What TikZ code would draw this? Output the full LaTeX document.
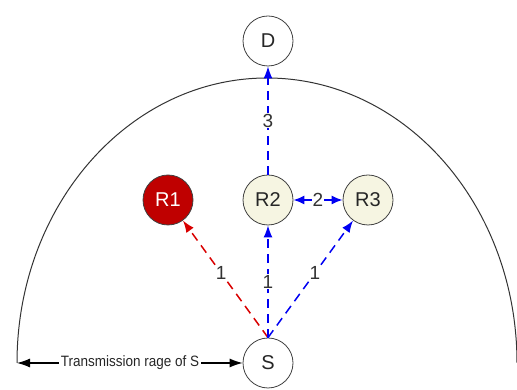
\documentclass[tikz,border=0pt]{standalone}
\usepackage{fontspec}
\setmainfont{Liberation Sans}
\usetikzlibrary{arrows.meta}
\begin{document}
\begin{tikzpicture}[x=1pt,y=1pt,
  nodecirc/.style={circle,draw=black!75,line width=0.8pt,minimum size=50pt,inner sep=0pt,font=\fontsize{20}{20}\selectfont,text=black!85},
  relay/.style={nodecirc,fill=olive!8!white},
  redrelay/.style={nodecirc,fill=red!75!black,text=white},
  plain/.style={nodecirc,fill=white},
  tip/.style={},
  link/.style={dashed,dash pattern=on 9pt off 6pt,line width=1.5pt,-{Latex[length=12pt,width=9pt]}},
  bluelink/.style={link,draw=blue!95!black},
  redlink/.style={link,draw=red!85!black},
  lbl/.style={fill=white,inner sep=1pt,font=\fontsize{19}{19}\selectfont,text=black!80},
]
\useasboundingbox (0,0) rectangle (517,390);
\begin{scope}
\clip (0,0) rectangle (517,390);
\draw[line width=1pt,black!80] (17,27) arc[start angle=180,end angle=0,x radius=250pt,y radius=285pt];
\end{scope}
\coordinate (arcL) at (17,27);
\node[plain] (S) at (268,27) {S};
\node[plain] (D) at (268,349) {D};
\node[redrelay] (R1) at (168,190) {R1};
\node[relay] (R2) at (268,190) {R2};
\node[relay] (R3) at (368,190) {R3};
\node[font=\fontsize{15}{15}\selectfont,text=black!85,inner sep=2pt] (tr) at (130,27) {\scalebox{0.9}[1]{Transmission rage of S}};
\draw[line width=1.1pt,-{Latex[length=13pt,width=9pt]}] (tr.west) -- (arcL);
\draw[line width=1.1pt,-{Latex[length=13pt,width=9pt]}] (tr.east) -- (S.west);
\draw[redlink] (S.north) -- node[lbl,pos=0.55]{1} (R1);
\draw[bluelink] (S.north) -- node[lbl]{1} (R2.south);
\draw[bluelink] (S.north) -- node[lbl,pos=0.55]{1} (R3);
\draw[bluelink] (R2.north) -- node[lbl]{3} (D.south);
\draw[line width=1.5pt,draw=blue!95!black,{Latex[length=11pt,width=9pt]}-{Latex[length=11pt,width=9pt]}] (R2.east) -- node[lbl]{2} (R3.west);
\end{tikzpicture}
\end{document}
